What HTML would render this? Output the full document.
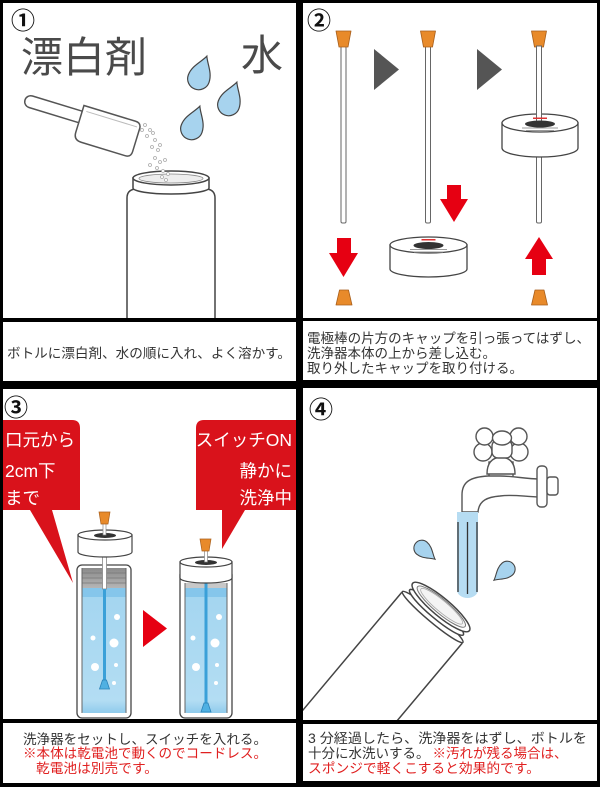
<!DOCTYPE html>
<html><head><meta charset="utf-8">
<style>
html,body{margin:0;padding:0;background:#000;width:600px;height:787px;overflow:hidden;}
svg{display:block;position:absolute;left:0;top:0;}
text{font-family:"Liberation Sans","Noto Sans CJK JP",sans-serif;}
</style></head><body>
<svg width="600" height="787" viewBox="0 0 600 787" xmlns="http://www.w3.org/2000/svg" overflow="hidden">
<defs>
<path id="drop" d="M0,-20 C3,-13 11,-6 11,4 A11,11 0 0 1 -11,4 C-11,-6 -3,-13 0,-20 Z"/>
<clipPath id="c4"><rect x="303" y="388" width="294" height="332"/></clipPath>
<linearGradient id="thr" x1="0" y1="0" x2="0" y2="1"><stop offset="0" stop-color="#8a8a8a"/><stop offset="1" stop-color="#b5b5b5"/></linearGradient>
<linearGradient id="wat" x1="0" y1="0" x2="0" y2="1"><stop offset="0" stop-color="#a3d5f0"/><stop offset="0.9" stop-color="#b3ddf3"/><stop offset="1" stop-color="#8fcbec"/></linearGradient>
</defs>
<rect width="600" height="787" fill="#000"/>
<!-- panels -->
<rect x="3" y="3" width="293" height="315" fill="#fff"/>
<rect x="3" y="322" width="293" height="59" fill="#fff"/>
<rect x="303" y="3" width="294" height="315" fill="#fff"/>
<rect x="303" y="321" width="294" height="59" fill="#fff"/>
<rect x="3" y="389" width="293" height="330" fill="#fff"/>
<rect x="3" y="723" width="293" height="60" fill="#fff"/>
<rect x="303" y="388" width="294" height="332" fill="#fff"/>
<rect x="303" y="724" width="294" height="57" fill="#fff"/>

<!-- ===== Panel 1 ===== -->
<text x="11" y="29" font-size="24" font-weight="bold" fill="#111">①</text>
<text x="21" y="72" font-size="42" fill="#4a4a4a">漂白剤</text>
<text x="241" y="70" font-size="42" fill="#4a4a4a">水</text>
<g fill="#a7d3ee" stroke="#444" stroke-width="1.2">
<use href="#drop" transform="translate(200,75) rotate(20)"/>
<use href="#drop" transform="translate(230,101) rotate(20)"/>
<use href="#drop" transform="translate(193,125) rotate(20)"/>
</g>
<!-- scoop -->
<g transform="translate(25,100) rotate(17)" fill="#fff" stroke="#555" stroke-width="1.5">
<rect x="0" y="-6" width="64" height="12" rx="6"/>
<path d="M58,-12 L112,-12 Q118,-12 118,-6 L118,18 Q118,24 112,24 L66,24 Q58,24 58,16 Z"/>
<path d="M62,-7 L115,-7" stroke="#bbb" stroke-width="1" fill="none"/>
</g>
<!-- bottle 1 -->
<g fill="#fff" stroke="#444" stroke-width="1.5">
<path d="M127,318 V198 Q127,190 135,189 L207,189 Q215,190 215,198 V318"/>
<path d="M133,178 V188 A38,6 0 0 0 209,188 V178 Z"/>
<ellipse cx="171" cy="178" rx="38" ry="7"/>
<ellipse cx="171" cy="178.5" rx="32" ry="4.5" fill="#eee" stroke="#888" stroke-width="0.8"/>
</g>
<g fill="#fff" stroke="#aaa" stroke-width="0.8">
<circle cx="145" cy="125" r="1.5"/><circle cx="150" cy="130" r="1.5"/><circle cx="147" cy="136" r="1.5"/>
<circle cx="155" cy="140" r="1.5"/><circle cx="152" cy="147" r="1.5"/><circle cx="158" cy="150" r="1.5"/>
<circle cx="155" cy="158" r="1.5"/><circle cx="160" cy="162" r="1.5"/><circle cx="157" cy="168" r="1.5"/>
<circle cx="163" cy="171" r="1.5"/><circle cx="150" cy="165" r="1.5"/><circle cx="165" cy="160" r="1.5"/>
<circle cx="162" cy="177" r="1.5"/><circle cx="168" cy="174" r="1.5"/><circle cx="142" cy="130" r="1.5"/>
<circle cx="153" cy="133" r="1.5"/><circle cx="160" cy="145" r="1.5"/><circle cx="166" cy="180" r="1.5"/>
</g>
<text x="7" y="358" font-size="13.5" fill="#333" textLength="284" lengthAdjust="spacingAndGlyphs">ボトルに漂白剤、水の順に入れ、よく溶かす。</text>

<!-- ===== Panel 2 ===== -->
<text x="307" y="29" font-size="24" font-weight="bold" fill="#111">②</text>
<g fill="#555">
<polygon points="374,49 374,90 399,69.5"/>
<polygon points="477,49 477,90 502,69.5"/>
</g>
<g fill="#fff" stroke="#666" stroke-width="1">
<rect x="341" y="46" width="5" height="177" rx="1.5"/>
<rect x="425.5" y="46" width="5" height="177" rx="1.5"/>
<rect x="536.5" y="46" width="5" height="177" rx="1.5"/>
</g>
<g fill="#e88a2a" stroke="#a85f1c" stroke-width="0.8" stroke-linejoin="round">
<polygon points="336,31 351,31 348,47 339,47"/>
<polygon points="420.5,31 435.5,31 432.5,47 423.5,47"/>
<polygon points="531.5,31 546.5,31 543.5,47 534.5,47"/>
<polygon points="339.5,290 348.5,290 352,305 336,305"/>
<polygon points="535,290 544,290 547.5,305 531.5,305"/>
</g>
<!-- disc on rod 3 -->
<g fill="#fff" stroke="#444" stroke-width="1.3">
<path d="M502,123 V148 A38,9 0 0 0 578,148 V123 Z"/>
<ellipse cx="540" cy="123" rx="38" ry="9"/>
</g>
<rect x="536.5" y="46" width="5" height="78" fill="#fff" stroke="#666" stroke-width="1"/>
<rect x="533" y="117.5" width="14" height="1.5" fill="#d33"/>
<ellipse cx="540" cy="124" rx="15" ry="3.5" fill="#333"/>
<path d="M522,128 H558 M526,130.5 H554" stroke="#999" stroke-width="1"/>
<!-- disc 2 -->
<g fill="#fff" stroke="#444" stroke-width="1.3">
<path d="M390,245 V269 A38.5,8 0 0 0 467,269 V245 Z"/>
<ellipse cx="428.5" cy="245" rx="38.5" ry="8"/>
</g>
<rect x="421.5" y="239" width="14" height="1.5" fill="#d33"/>
<ellipse cx="428.5" cy="245.5" rx="15" ry="3.5" fill="#333"/>
<path d="M410,249.5 H447 M414,252 H443" stroke="#999" stroke-width="1"/>
<!-- red arrows -->
<g fill="#e60012">
<rect x="337" y="238" width="14" height="17"/><polygon points="329,253 358,253 343.5,277"/>
<rect x="447" y="185" width="14" height="16"/><polygon points="440,199 468,199 454,222"/>
<polygon points="525,259 553,259 539,237"/><rect x="532" y="258" width="14" height="17"/>
</g>
<text x="307" y="343" font-size="13.5" fill="#333" textLength="283" lengthAdjust="spacingAndGlyphs">電極棒の片方のキャップを引っ張ってはずし、</text>
<text x="307" y="358" font-size="13.5" fill="#333" textLength="189" lengthAdjust="spacingAndGlyphs">洗浄器本体の上から差し込む。</text>
<text x="307" y="373" font-size="13.5" fill="#333" textLength="216" lengthAdjust="spacingAndGlyphs">取り外したキャップを取り付ける。</text>

<!-- ===== Panel 3 ===== -->
<text x="4" y="416" font-size="24" font-weight="bold" fill="#111">③</text>
<g fill="#d9121b">
<path d="M3,420 H72 Q80,420 80,428 V510 H52 L73,583 L30,510 H3 Z"/>
<path d="M204,420 H296 V510 H245 L222,549 L222,510 H196 V428 Q196,420 204,420 Z"/>
</g>
<g fill="#fff" font-size="17.5">
<text x="5" y="446">口元から</text>
<text x="5" y="477">2cm下</text>
<text x="5" y="504">まで</text>
<text x="292" y="446" text-anchor="end">スイッチON</text>
<text x="292" y="477" text-anchor="end">静かに</text>
<text x="292" y="504" text-anchor="end">洗浄中</text>
</g>
<!-- bottle A -->
<rect x="77" y="565" width="54" height="153" rx="5" fill="#fff" stroke="#444" stroke-width="1.3"/>
<rect x="82" y="568" width="44" height="20" fill="url(#thr)"/>
<path d="M82,573 H126 M82,578 H126 M82,583 H126" stroke="#777" stroke-width="0.8"/>
<rect x="82" y="588" width="44" height="125" rx="2" fill="url(#wat)"/>
<rect x="82" y="588" width="44" height="9" fill="#85c6eb"/>
<path d="M82,568 V713 M126,568 V713" stroke="#666" stroke-width="1"/>
<rect x="102.5" y="555" width="4" height="34" fill="#fff" stroke="#888" stroke-width="0.8"/>
<rect x="103" y="589" width="3" height="91" fill="#3aa0d8"/>
<polygon points="102.5,680 106.5,680 109.5,689 99.5,689" fill="#4fb0e2" stroke="#2a82b8" stroke-width="0.8"/>
<g fill="#fff">
<circle cx="117" cy="617" r="3"/><circle cx="93" cy="638" r="2.5"/><circle cx="114" cy="643" r="4.5"/>
<circle cx="95" cy="667" r="4"/><circle cx="116" cy="665" r="2"/><circle cx="114" cy="683" r="2"/>
</g>
<g fill="#fff" stroke="#444" stroke-width="1.2">
<path d="M78,535 V552 A27,5 0 0 0 132,552 V535 Z"/>
<ellipse cx="105" cy="535" rx="27" ry="5"/>
</g>
<ellipse cx="105" cy="535.5" rx="11" ry="2.5" fill="#333"/>
<rect x="103" y="523" width="3" height="12" fill="#fff" stroke="#888" stroke-width="0.7"/>
<polygon points="99,512 110,512 108,524 101,524" fill="#e88a2a" stroke="#a85f1c" stroke-width="0.7"/>
<!-- red triangle -->
<polygon points="143,610 143,647 167,628.5" fill="#e60012"/>
<!-- bottle B -->
<rect x="180" y="570" width="52" height="148" rx="5" fill="#fff" stroke="#444" stroke-width="1.3"/>
<rect x="185" y="583" width="42" height="5" fill="#c8c8c8"/>
<rect x="185" y="588" width="42" height="125" rx="2" fill="url(#wat)"/>
<rect x="185" y="588" width="42" height="9" fill="#85c6eb"/>
<path d="M185,583 V713 M227,583 V713" stroke="#666" stroke-width="1"/>
<rect x="204.5" y="583" width="3" height="120" fill="#3aa0d8"/>
<polygon points="204,703 208,703 211,712 201,712" fill="#4fb0e2" stroke="#2a82b8" stroke-width="0.8"/>
<g fill="#fff">
<circle cx="219" cy="617" r="3"/><circle cx="193" cy="638" r="2.5"/><circle cx="215" cy="643" r="4.5"/>
<circle cx="196" cy="667" r="4"/><circle cx="217" cy="665" r="2"/><circle cx="216" cy="683" r="2"/>
</g>
<g fill="#fff" stroke="#444" stroke-width="1.2">
<path d="M180,562 V578 A26,5 0 0 0 232,578 V562 Z"/>
<ellipse cx="206" cy="562" rx="26" ry="5"/>
</g>
<ellipse cx="206" cy="562.5" rx="11" ry="2.5" fill="#333"/>
<rect x="204.5" y="550" width="3" height="12" fill="#fff" stroke="#888" stroke-width="0.7"/>
<polygon points="200,539 211,539 209,551 202,551" fill="#e88a2a" stroke="#a85f1c" stroke-width="0.7"/>
<text x="23" y="744" font-size="13.5" fill="#333" textLength="244" lengthAdjust="spacingAndGlyphs">洗浄器をセットし、スイッチを入れる。</text>
<text x="23" y="758" font-size="13.5" fill="#e02020" textLength="244" lengthAdjust="spacingAndGlyphs">※本体は乾電池で動くのでコードレス。</text>
<text x="36" y="773" font-size="13.5" fill="#e02020" textLength="122" lengthAdjust="spacingAndGlyphs">乾電池は別売です。</text>

<!-- ===== Panel 4 ===== -->
<text x="309" y="418" font-size="24" font-weight="bold" fill="#111">④</text>
<!-- faucet -->
<g fill="#fff" stroke="#555" stroke-width="1.4">
<rect x="489" y="462" width="24" height="16"/>
<path d="M462,512 L462,495 C462,482 470,477 488,476 L500,476 C515,476 525,479 540,479 L540,497 C525,497 515,494 500,496 C488,497 479,500 478,512 Z"/>
<rect x="537" y="466" width="10" height="41" rx="4"/>
<rect x="547" y="477" width="11" height="18" rx="3"/>
<path d="M487,474 Q487,458 501,457 Q515,458 515,474 Z"/>
<circle cx="483" cy="452" r="9"/><circle cx="519" cy="452" r="9"/>
<circle cx="484.5" cy="436.5" r="8.5"/><circle cx="518.5" cy="436.5" r="8.5"/>
<rect x="492" y="440" width="20" height="18" rx="6"/>
<ellipse cx="502" cy="438" rx="9.5" ry="7"/>
</g>
<!-- stream -->
<path d="M457,512 H478 V590 A10.5,8 0 0 1 457,590 Z" fill="#b6dcf2"/>
<path d="M458,522 V592 M467.5,522 V594 M477,522 V592" stroke="#333" stroke-width="1.3"/>
<g fill="#a7d3ee" stroke="#444" stroke-width="1.5">
<use href="#drop" transform="translate(424,550) rotate(130) scale(0.72)"/>
<use href="#drop" transform="translate(505,571) rotate(-130) scale(0.72)"/>
</g>
<!-- tilted bottle -->
<g clip-path="url(#c4)">
<g transform="translate(441,607) rotate(-50)" fill="#fff" stroke="#444" stroke-width="1.5">
<rect x="-200" y="-39.5" width="188" height="79" stroke="none"/>
<path d="M-200,-39.5 L-14,-39.5 M-200,39.5 L-14,39.5" fill="none"/>
<ellipse cx="-13" cy="0" rx="5" ry="39.5"/>
<ellipse cx="-7" cy="0" rx="6" ry="35"/>
<ellipse cx="0" cy="0" rx="9" ry="37"/>
<ellipse cx="0.5" cy="0" rx="7" ry="31" fill="#f4f4f4" stroke="#777" stroke-width="1"/>
<ellipse cx="1" cy="0" rx="5.5" ry="27" fill="none" stroke="#aaa" stroke-width="0.8"/>
</g>
</g>
<text x="308" y="743" font-size="13.5" fill="#333" textLength="279" lengthAdjust="spacingAndGlyphs">3 分経過したら、洗浄器をはずし、ボトルを</text>
<text x="308" y="758" font-size="13.5"><tspan fill="#333">十分に水洗いする。</tspan><tspan fill="#e02020" dx="3">※汚れが残る場合は、</tspan></text>
<text x="308" y="773" font-size="13.5" fill="#e02020" textLength="232" lengthAdjust="spacingAndGlyphs">スポンジで軽くこすると効果的です。</text>
</svg>
</body></html>
